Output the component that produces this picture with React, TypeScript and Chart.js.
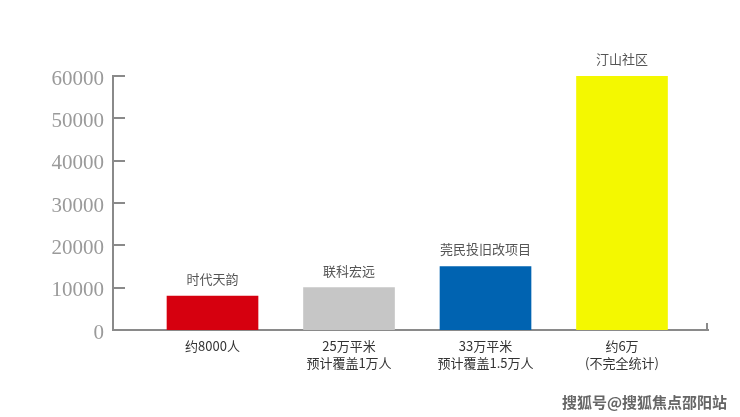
import React, { useEffect, useRef } from "react";
import { Chart, registerables } from "chart.js";

Chart.register(...registerables);

const barNames = ["时代天韵", "联科宏远", "莞民投旧改项目", "汀山社区"];
const xLabels: string[][] = [
  ["约8000人"],
  ["25万平米", "预计覆盖1万人"],
  ["33万平米", "预计覆盖1.5万人"],
  ["约6万", "(不完全统计)"],
];
const values = [8000, 10000, 15000, 60000];
const colors = ["#d6000f", "#c6c6c6", "#0063b1", "#f4f800"];
const yTicks = [0, 10000, 20000, 30000, 40000, 50000, 60000];

const axisColor = "#8a8a8a";

const decorPlugin = {
  id: "decor",
  afterDraw(chart: any) {
    const ctx = chart.ctx;
    const y = chart.scales.y;
    const area = chart.chartArea;
    ctx.save();
    ctx.strokeStyle = axisColor;
    ctx.lineWidth = 2;
    // inward tick marks on y axis
    yTicks.forEach((v) => {
      const py = Math.round(y.getPixelForValue(v));
      ctx.beginPath();
      ctx.moveTo(area.left, py);
      ctx.lineTo(area.left + 12, py);
      ctx.stroke();
    });
    // end tick of x axis
    ctx.beginPath();
    ctx.moveTo(area.right - 1, area.bottom);
    ctx.lineTo(area.right - 1, area.bottom - 7);
    ctx.stroke();
    // bar labels
    const meta = chart.getDatasetMeta(0);
    ctx.fillStyle = "#555";
    ctx.font = "13px 'Noto Sans CJK SC', sans-serif";
    ctx.textAlign = "center";
    ctx.textBaseline = "middle";
    meta.data.forEach((el: any, i: number) => {
      ctx.fillText(barNames[i], el.x, el.y - 17);
    });
    ctx.restore();
  },
};

export default function App() {
  const ref = useRef<HTMLCanvasElement>(null);
  useEffect(() => {
    if (!ref.current) return;
    const chart = new Chart(ref.current, {
      type: "bar",
      data: {
        datasets: [
          {
            data: values.map((v, i) => ({ x: i, y: v })),
            backgroundColor: colors,
            barThickness: 91,
          },
        ],
      },
      options: {
        animation: false,
        responsive: false,
        maintainAspectRatio: false,
        layout: { padding: { top: 76, right: 32, left: 0, bottom: 0 } },
        plugins: { legend: { display: false }, tooltip: { enabled: false } },
        scales: {
          x: {
            type: "linear",
            offset: false,
            min: -0.729,
            max: 3.63,
            grid: { display: false, drawTicks: false, offset: false },
            border: { display: true, color: axisColor, width: 2 },
            afterBuildTicks: (scale: any) => {
              scale.ticks = xLabels.map((_, i) => ({ value: i }));
            },
            afterFit: (scale: any) => {
              scale.height = 87;
            },
            ticks: {
              autoSkip: false,
              maxRotation: 0,
              padding: 8,
              color: "#333",
              font: { family: "'Noto Sans CJK SC', sans-serif", size: 13, lineHeight: 1.3 },
              callback: (v: any) => xLabels[v as number] ?? "",
            },
          },
          y: {
            min: 0,
            max: 60000,
            grid: { display: false, drawTicks: false },
            border: { display: true, color: axisColor, width: 2 },
            afterBuildTicks: (scale: any) => {
              scale.ticks = yTicks.map((v) => ({ value: v }));
            },
            afterFit: (scale: any) => {
              scale.width = 113;
            },
            ticks: {
              padding: 9,
              labelOffset: 3,
              color: "#9a9a9a",
              font: { family: "'Liberation Serif', serif", size: 21 },
              callback: (v: any) => String(v),
            },
          },
        },
      },
      plugins: [decorPlugin],
    });
    return () => chart.destroy();
  }, []);
  return (
    <div style={{ position: "fixed", left: 0, top: 0, width: 740, height: 417, background: "#fff" }}>
      <canvas ref={ref} width={740} height={417} style={{ width: 740, height: 417 }} />
      <div
        style={{
          position: "absolute",
          left: 562,
          top: 391,
          fontFamily: "'Noto Sans CJK SC', sans-serif",
          fontSize: 15,
          fontWeight: 700,
          color: "#666",
          whiteSpace: "nowrap",
          letterSpacing: 0,
        }}
      >
        搜狐号@搜狐焦点邵阳站
      </div>
    </div>
  );
}
